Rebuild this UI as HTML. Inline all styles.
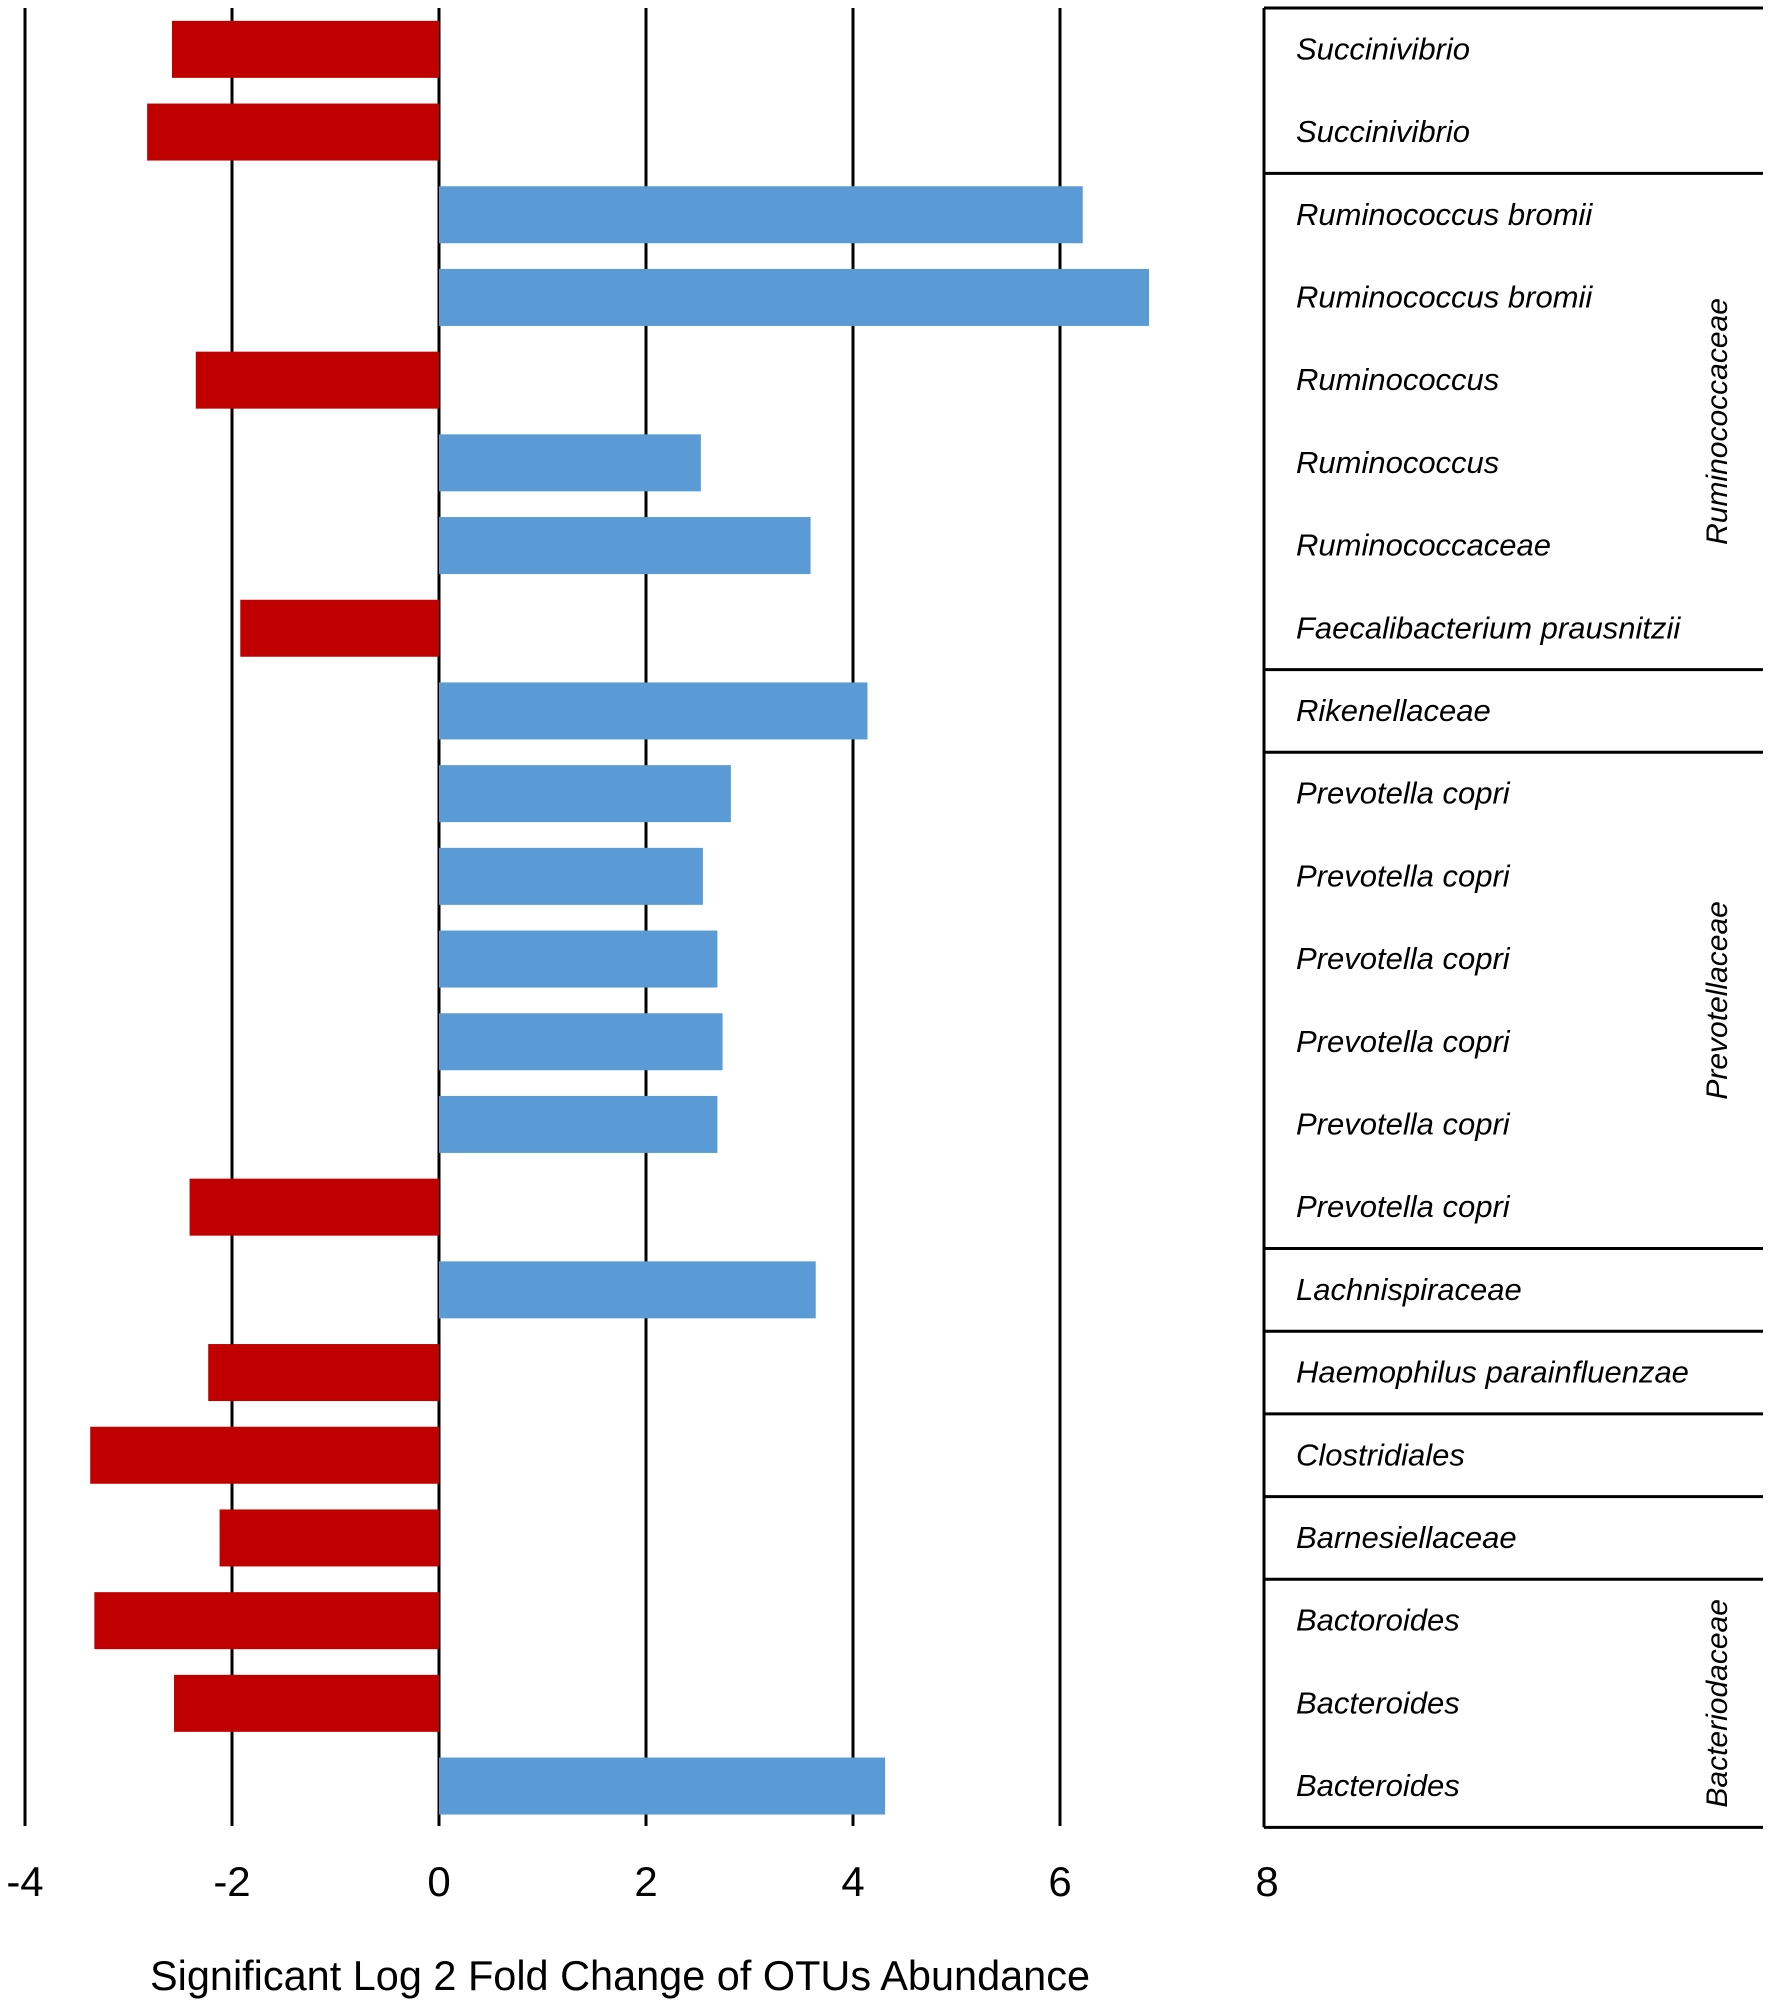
<!DOCTYPE html>
<html><head><meta charset="utf-8"><style>
html,body{margin:0;padding:0;background:#fff;}
svg{display:block;font-family:"Liberation Sans",sans-serif;}
</style></head><body>
<svg id="chart" width="1772" height="2009" viewBox="0 0 1772 2009" xmlns="http://www.w3.org/2000/svg"></svg>
<script>
const labels = ["Succinivibrio","Succinivibrio","Ruminococcus bromii","Ruminococcus bromii","Ruminococcus","Ruminococcus","Ruminococcaceae","Faecalibacterium prausnitzii","Rikenellaceae","Prevotella copri","Prevotella copri","Prevotella copri","Prevotella copri","Prevotella copri","Prevotella copri","Lachnispiraceae","Haemophilus parainfluenzae","Clostridiales","Barnesiellaceae","Bactoroides","Bacteroides","Bacteroides"];
const values = [-2.58,-2.82,6.22,6.86,-2.35,2.53,3.59,-1.92,4.14,2.82,2.55,2.69,2.74,2.69,-2.41,3.64,-2.23,-3.37,-2.12,-3.33,-2.56,4.31];
const ticks = [-4,-2,0,2,4,6,8];
const groupEnds = [2,8,9,15,16,17,18,19,22];
const groupNames = [["Ruminococcaceae",2,8],["Prevotellaceae",9,15],["Bacteriodaceae",19,22]];

const svg = document.getElementById('chart');
const NS = 'http://www.w3.org/2000/svg';
const x0 = 439, unit = 103.5, topY = 8, pitch = 82.7, barH = 57;
const X = v => x0 + v*unit;
const Y = i => topY + pitch*i;
function mk(tag, attrs){const e=document.createElementNS(NS,tag);for(const k in attrs)e.setAttribute(k,attrs[k]);svg.appendChild(e);return e;}

ticks.forEach(t=>{
  if(t===8) return;
  const l=mk('line',{x1:X(t),x2:X(t),y1:topY,y2:1826,stroke:'#000','stroke-width':3});
  
  
});
values.forEach((v,i)=>{
  const cy = Y(i)+pitch/2;
  const r=mk('rect',{x:Math.min(X(0),X(v)),y:cy-barH/2,width:Math.abs(X(v)-X(0)),height:barH,fill:v<0?'#C00000':'#5B9BD5'});
  
  
});
ticks.forEach(t=>{
  const tx=mk('text',{x:X(t),y:1896,'font-size':42,'text-anchor':'middle',fill:'#000'});
  tx.textContent=String(t);
  
  
});
const title=mk('text',{x:150,y:1990,'font-size':42,textLength:940,lengthAdjust:'spacingAndGlyphs',fill:'#000'});
title.textContent='Significant Log 2 Fold Change of OTUs Abundance';


const tl=mk('line',{x1:1264,x2:1264,y1:topY,y2:Y(22),stroke:'#000','stroke-width':3});


const tt=mk('line',{x1:1264,x2:1763,y1:topY,y2:topY,stroke:'#000','stroke-width':3});


groupEnds.forEach(g=>{
  const y = Y(g);
  const s=mk('line',{x1:1264,x2:1763,y1:y,y2:y,stroke:'#000','stroke-width':3});
  
  
});
labels.forEach((lab,i)=>{
  const t=mk('text',{x:1296,y:Y(i)+pitch/2+10,'font-size':31,'font-style':'italic',fill:'#000'});
  t.textContent=lab;
  
  
});
groupNames.forEach(([n,a,b])=>{
  const cy=(Y(a)+Y(b))/2, cx=1727;
  const t=mk('text',{x:cx,y:cy,'font-size':30,'font-style':'italic','text-anchor':'middle',transform:`rotate(-90 ${cx} ${cy})`,fill:'#000'});
  t.textContent=n;
  
  
});
</script>
</body></html>
